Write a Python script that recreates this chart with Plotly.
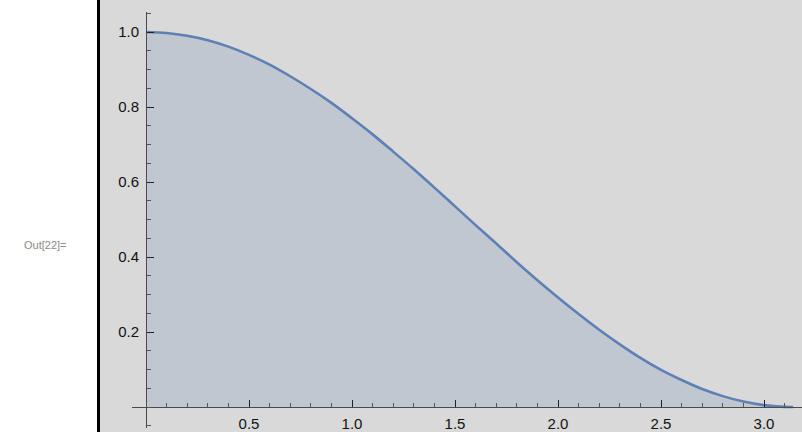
import plotly.graph_objects as go

# Curve values
x_vals = [0.0, 0.1, 0.2, 0.3, 0.4, 0.5, 0.6, 0.7, 0.8, 0.9, 1.0, 1.1, 1.2, 1.3, 1.4, 1.5,
          1.6, 1.7, 1.8, 1.9, 2.0, 2.1, 2.2, 2.3, 2.4, 2.5, 2.6, 2.7, 2.8, 2.9, 3.0, 3.1, 3.1416]
y_vals = [1.000, 0.9975, 0.990, 0.978, 0.961, 0.939, 0.913, 0.882, 0.848, 0.811, 0.770,
          0.727, 0.681, 0.634, 0.585, 0.535, 0.485, 0.436, 0.386, 0.338, 0.292, 0.248,
          0.206, 0.167, 0.131, 0.099, 0.072, 0.048, 0.029, 0.0145, 0.005, 0.0004, 0.0]

x_ticks = [0.5, 1.0, 1.5, 2.0, 2.5, 3.0]
x_ticklabels = ["0.5", "1.0", "1.5", "2.0", "2.5", "3.0"]
y_ticks = [0.2, 0.4, 0.6, 0.8, 1.0]
y_ticklabels = ["0.2", "0.4", "0.6", "0.8", "1.0"]
out_label = "Out[22]="

W, H = 802, 432
LINE = "#5e81b5"
BG = "#d9d9d9"
AX = "#4a4a4a"

fig = go.Figure()
fig.add_trace(go.Scatter(
    x=x_vals, y=y_vals, mode="lines",
    line=dict(color=LINE, width=2.6, shape="spline"),
    fill="tozeroy", fillcolor="rgba(94,129,181,0.2)",
    hoverinfo="skip",
))

tickfont = dict(family="Liberation Sans, Arial, sans-serif", size=15, color="#111")

fig.update_layout(
    width=W, height=H, autosize=False,
    margin=dict(l=0, r=0, t=0, b=0),
    paper_bgcolor=BG, plot_bgcolor="rgba(0,0,0,0)",
    showlegend=False,
    xaxis=dict(
        domain=[132 / W, 1.0],
        range=[(132 - 146) / 206, (802 - 146) / 206],
        anchor="free", position=25 / H,
        showgrid=False, zeroline=False, automargin=False,
        showline=True, linecolor=AX, linewidth=1,
        ticks="inside", ticklen=7, tickcolor="#222", tickwidth=1,
        tickmode="array", tickvals=x_ticks, ticktext=x_ticklabels,
        tickfont=tickfont, ticklabelstandoff=3,
        minor=dict(ticks="inside", ticklen=4, tickcolor="#555", tickwidth=1,
                   tick0=0, dtick=0.1, showgrid=False),
    ),
    yaxis=dict(
        domain=[4 / H, 420 / H],
        range=[(407 - 428) / 375, (407 - 12) / 375],
        anchor="free", position=146 / W,
        showgrid=False, zeroline=False, automargin=False,
        showline=True, linecolor=AX, linewidth=1,
        ticks="inside", ticklen=7, tickcolor="#222", tickwidth=1,
        tickmode="array", tickvals=y_ticks, ticktext=y_ticklabels,
        tickfont=tickfont, ticklabelstandoff=4,
        minor=dict(ticks="inside", ticklen=4, tickcolor="#555", tickwidth=1,
                   tick0=0, dtick=0.05, showgrid=False),
    ),
    shapes=[
        dict(type="rect", xref="paper", yref="paper", x0=0, x1=97 / W, y0=0, y1=1,
             fillcolor="white", line=dict(width=0), layer="below"),
        dict(type="line", xref="paper", yref="paper", x0=98.5 / W, x1=98.5 / W, y0=0, y1=1,
             line=dict(color="black", width=3), layer="below"),
    ],
    annotations=[
        dict(text=out_label, xref="paper", yref="paper", x=22 / W, y=(H - 245) / H,
             xanchor="left", yanchor="middle", showarrow=False,
             font=dict(family="Liberation Sans, Arial, sans-serif", size=11, color="#8c8c8c")),
    ],
)

fig.write_html(
    "out.html",
    config={"displayModeBar": False},
    post_script="document.body.style.margin='0';document.body.style.overflow='hidden';",
)
